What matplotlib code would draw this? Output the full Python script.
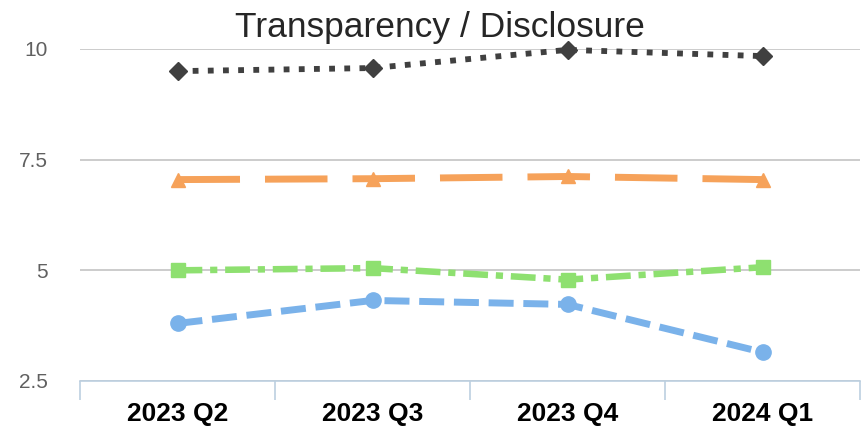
import matplotlib
matplotlib.use("Agg")
import matplotlib.pyplot as plt

categories = ["2023 Q2", "2023 Q3", "2023 Q4", "2024 Q1"]
series_black = [9.50, 9.57, 9.98, 9.84]
series_orange = [7.05, 7.07, 7.12, 7.05]
series_green = [5.00, 5.05, 4.79, 5.07]
series_blue = [3.80, 4.32, 4.23, 3.15]
yticks = [2.5, 5, 7.5, 10]
ytick_labels = ["2.5", "5", "7.5", "10"]
title = "Transparency / Disclosure"

plt.rcParams['font.family'] = ['Liberation Sans', 'DejaVu Sans']

fig = plt.figure(figsize=(8.64, 4.41), dpi=100)
ax = fig.add_axes([80/864, 1-381/441, 780/864, (381-49)/441])

x = list(range(len(categories)))
ax.plot(x, series_black, color="#404040", lw=4.2, linestyle=(0, (1, 1.6)),
        dash_capstyle="butt", marker="D", markersize=9, clip_on=False, zorder=5)
ax.plot(x, series_orange, color="#F6A25A", lw=5.0, linestyle=(0, (9, 3.6)),
        dash_capstyle="butt", marker="^", markersize=10, clip_on=False, zorder=4)
ax.plot(x, series_green, color="#8EE070", lw=4.7, linestyle=(0, (3.8, 1.2, 1.1, 1.2)),
        dash_capstyle="butt", marker="s", markersize=10, clip_on=False, zorder=4)
ax.plot(x, series_blue, color="#7AB2EA", lw=5.0, linestyle=(0, (3.6, 1.4)),
        dash_capstyle="butt", marker="o", markersize=11, clip_on=False, zorder=4)

ax.set_xlim(-0.5, 3.5)
ax.set_ylim(2.5, 10)
ax.set_yticks(yticks)
ax.set_yticklabels(ytick_labels, color="#606060", fontsize=15)
ax.tick_params(axis='y', length=0, pad=23)
ax.yaxis.grid(True, color="#C4C4C4", lw=1.2)
ax.set_axisbelow(True)

ax.set_xticks(x)
ax.set_xticklabels(categories, fontsize=19, fontweight="bold", color="#000000")
ax.tick_params(axis='x', length=0, pad=15)
ax.set_xticks([-0.5, 0.5, 1.5, 2.5, 3.5], minor=True)
ax.tick_params(axis='x', which='minor', length=14, color="#BCCFE0", width=1.2)

for s in ["top", "right", "left"]:
    ax.spines[s].set_visible(False)
ax.spines["bottom"].set_color("#BCCFE0")
ax.spines["bottom"].set_linewidth(1.2)

fig.text(440/864, 1-28/441, title, ha="center", va="center", fontsize=25.5, color="#262626")

fig.savefig("out.png", dpi=100)
